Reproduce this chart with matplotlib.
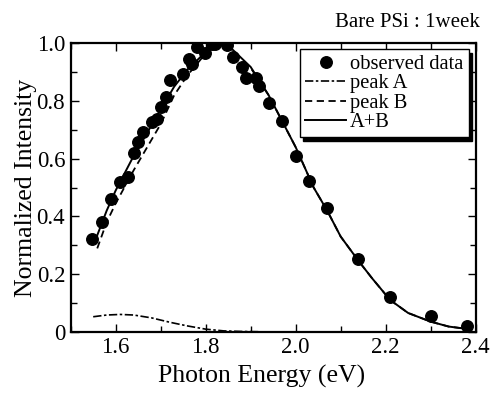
import matplotlib
matplotlib.use("Agg")
import matplotlib.pyplot as plt
from matplotlib.ticker import MultipleLocator, FuncFormatter

plt.rcParams['font.family'] = ['Liberation Serif', 'DejaVu Serif']

# observed data
obs_x = [1.548, 1.569, 1.590, 1.610, 1.628, 1.641, 1.649, 1.661, 1.680, 1.691,
         1.700, 1.711, 1.721, 1.750, 1.762, 1.770, 1.780, 1.798, 1.813, 1.821,
         1.847, 1.861, 1.880, 1.890, 1.911, 1.919, 1.941, 1.969, 2.000, 2.030,
         2.069, 2.139, 2.210, 2.301, 2.380]
obs_y = [0.321, 0.382, 0.459, 0.520, 0.535, 0.619, 0.657, 0.693, 0.727, 0.738,
         0.781, 0.814, 0.873, 0.894, 0.944, 0.928, 0.987, 0.965, 0.998, 0.998,
         0.994, 0.954, 0.919, 0.881, 0.881, 0.852, 0.793, 0.732, 0.609, 0.523,
         0.428, 0.252, 0.121, 0.054, 0.020]

# peak A (dash-dot)
a_x = [1.55, 1.58, 1.61, 1.64, 1.68, 1.72, 1.76, 1.80, 1.84, 1.88, 1.92]
a_y = [0.052, 0.058, 0.060, 0.058, 0.048, 0.033, 0.020, 0.009, 0.003, 0.001, 0.0]

# peak B (dashed)
b_x = [1.559, 1.58, 1.60, 1.64, 1.67, 1.70, 1.73, 1.76, 1.80, 1.83, 1.86, 1.90,
       1.94, 1.97, 2.00, 2.04, 2.07, 2.10, 2.14, 2.17, 2.21, 2.25, 2.30, 2.34, 2.38]
b_y = [0.289, 0.38, 0.445, 0.56, 0.64, 0.72, 0.82, 0.89, 0.965, 0.995, 0.975, 0.915,
       0.82, 0.73, 0.64, 0.50, 0.42, 0.33, 0.245, 0.185, 0.11, 0.065, 0.035, 0.018, 0.01]

# A+B (solid)
ab_x = [1.553, 1.58, 1.60, 1.64, 1.67, 1.70, 1.73, 1.76, 1.80, 1.83, 1.86, 1.90,
        1.94, 1.97, 2.00, 2.04, 2.07, 2.10, 2.14, 2.17, 2.21, 2.25, 2.30, 2.34, 2.38]
ab_y = [0.31, 0.42, 0.49, 0.61, 0.69, 0.77, 0.85, 0.91, 0.97, 0.998, 0.978, 0.918,
        0.82, 0.73, 0.64, 0.50, 0.42, 0.33, 0.245, 0.185, 0.11, 0.065, 0.035, 0.018, 0.01]

fig = plt.figure(figsize=(4.94, 3.94), dpi=100)
ax = fig.add_axes([0.1431, 0.158, 0.8198, 0.732])

ax.plot(obs_x, obs_y, 'o', color='black', markersize=8.3, label='observed data', zorder=3)
ax.plot(a_x, a_y, color='black', lw=1.2, dashes=[5, 1.5, 1.5, 1.5], label='peak A')
ax.plot(b_x, b_y, color='black', lw=1.3, dashes=[4, 2.5], label='peak B')
ax.plot(ab_x, ab_y, color='black', lw=1.4, ls='-', label='A+B')

ax.set_xlim(1.5, 2.4)
ax.set_ylim(0, 1.0)
ax.xaxis.set_major_locator(MultipleLocator(0.2))
ax.xaxis.set_minor_locator(MultipleLocator(0.1))
ax.yaxis.set_major_locator(MultipleLocator(0.2))
ax.yaxis.set_minor_locator(MultipleLocator(0.1))
ax.yaxis.set_major_formatter(FuncFormatter(lambda v, p: '0' if abs(v) < 1e-9 else f'{v:.1f}'))
ax.xaxis.set_major_formatter(FuncFormatter(lambda v, p: f'{v:.1f}'))

ax.tick_params(which='both', direction='in', top=True, right=True, width=1.0, labelsize=16.5, pad=4)
ax.tick_params(which='major', length=6)
ax.tick_params(which='minor', length=4)
for s in ax.spines.values():
    s.set_linewidth(1.6)

ax.set_xlabel('Photon Energy (eV)', fontsize=18.5)
ax.set_ylabel('Normalized Intensity', fontsize=18.5, labelpad=0)
ax.xaxis.set_label_coords(0.472, -0.115)

fig.text(0.972, (394 - 27) / 394, 'Bare PSi : 1week', ha='right', va='baseline', fontsize=15)

leg = ax.legend(loc='upper right', bbox_to_anchor=(0.983, 0.979), borderaxespad=0,
                fontsize=14.8, numpoints=1, handlelength=2.0, handletextpad=0.2,
                labelspacing=0.0, borderpad=0.25, fancybox=False, framealpha=1,
                edgecolor='black', shadow={'color': 'black', 'alpha': 1, 'ox': 2.5, 'oy': -2.5})
leg.get_frame().set_linewidth(1.0)

fig.savefig('out.png', dpi=100)
